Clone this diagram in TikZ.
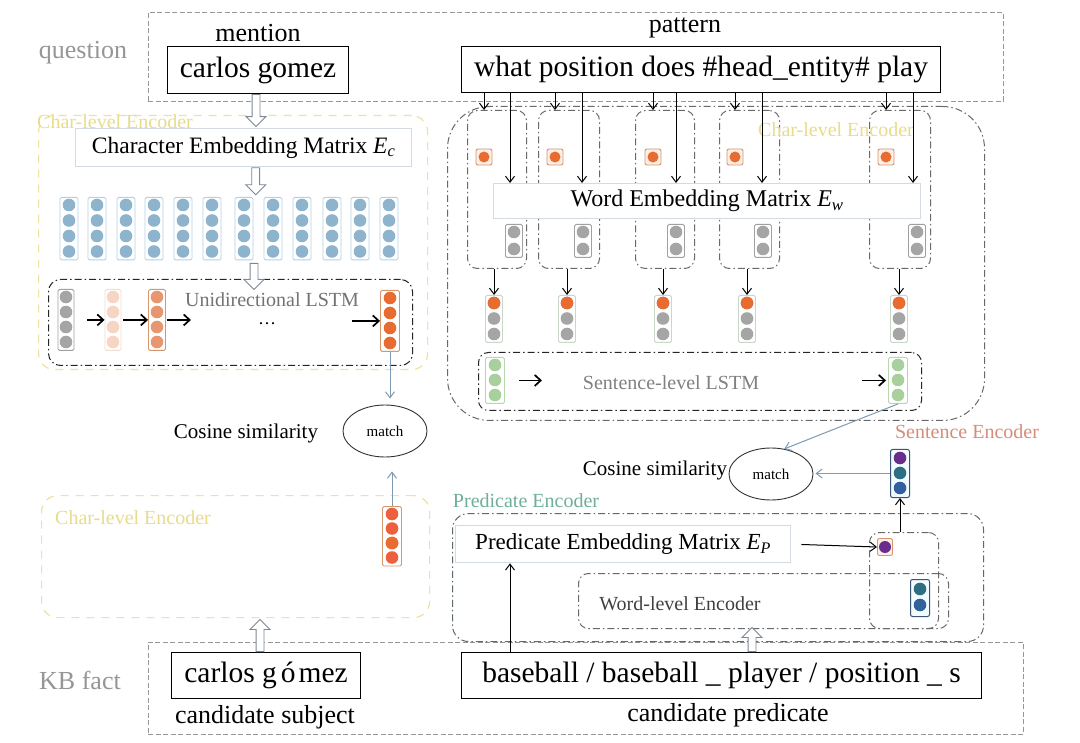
\documentclass[tikz,border=0pt]{standalone}
\usepackage{fontspec}
\setmainfont{Liberation Serif}
\usetikzlibrary{arrows.meta,shapes.arrows,shapes.geometric}
\definecolor{qgray}{RGB}{150,150,150}
\definecolor{ylw}{RGB}{238,226,160}
\definecolor{ylwtxt}{RGB}{232,220,140}
\definecolor{bluec}{RGB}{142,180,205}
\definecolor{blueb}{RGB}{180,208,228}
\definecolor{grayc}{RGB}{165,165,165}
\definecolor{grayb}{RGB}{160,160,160}
\definecolor{orc}{RGB}{232,108,48}
\definecolor{orb}{RGB}{215,150,110}
\definecolor{redor}{RGB}{236,96,62}
\definecolor{peach}{RGB}{246,214,194}
\definecolor{peachb}{RGB}{242,222,206}
\definecolor{lorc}{RGB}{232,150,112}
\definecolor{greenc}{RGB}{168,208,156}
\definecolor{greenb}{RGB}{185,215,175}
\definecolor{combb}{RGB}{200,215,200}
\definecolor{purp}{RGB}{105,45,140}
\definecolor{tealc}{RGB}{45,110,130}
\definecolor{bluedk}{RGB}{50,95,160}
\definecolor{vecb}{RGB}{60,85,115}
\definecolor{linkc}{RGB}{125,155,180}
\definecolor{embb}{RGB}{212,218,226}
\definecolor{sentc}{RGB}{215,140,120}
\definecolor{predc}{RGB}{110,175,155}
\definecolor{encg}{RGB}{105,105,105}
\definecolor{hollowc}{RGB}{125,135,150}

\newcommand\boxat[7]{\node[#6, minimum width={#4-#2}, minimum height={#5-#3}, inner sep=0pt, anchor=north west] (#1) at (#2,#3) {#7};}
\newcommand\cvec[8]{%
 \node[draw=#7, line width=0.9, rounded corners=1.5, minimum width=#8, minimum height={16+#5*(#4-1)}, inner sep=0pt, anchor=north] (#1) at (#2,#3) {};
 \foreach \k in {1,...,#4} {\fill[#6] (#2,{#3+8+#5*(\k-1)}) circle (6.3);}%
}

\begin{document}
\begin{tikzpicture}[x=1pt,y=-1pt,
  qbox/.style={draw=qgray, line width=0.9, dash pattern=on 5pt off 2.5pt},
  tbox/.style={draw=black, line width=1.1, fill=white, font=\fontsize{29.5}{32}\selectfont},
  ebox/.style={draw=embb, line width=1.3, fill=white},
  ydash/.style={draw=ylw, line width=1.2, dash pattern=on 8pt off 7pt, rounded corners=16},
  ddot/.style={line width=1, dash pattern=on 7pt off 3pt on 1.5pt off 3pt, rounded corners=#1},
  ddot/.default=10,
  arr/.style={-{Straight Barb[length=6pt,width=9pt]}, line width=1},
  larr/.style={-{Straight Barb[length=6pt,width=11pt]}, line width=1.7},
  link/.style={draw=linkc, line width=1, -{Straight Barb[length=6pt,width=9pt]}},
  hollow/.style={single arrow, draw=hollowc, fill=white, line width=0.9, inner sep=3.5pt,
     single arrow head extend=6pt, minimum height=#1},
  lab/.style={font=\fontsize{26}{28}\selectfont},
  mid/.style={font=\fontsize{21}{23}\selectfont},
  sml/.style={font=\fontsize{20}{22}\selectfont},
  osq/.style={draw=orb, line width=0.9, rounded corners=2, fill=peach!40, minimum width=16, minimum height=16, inner sep=0pt},
  matchE/.style={ellipse, draw=black!80, line width=0.9, minimum width=84, minimum height=52, inner sep=0pt, font=\fontsize{15}{17}\selectfont}
]
\useasboundingbox (0,0) rectangle (1080,743);
\fill[white] (0,0) rectangle (1080,743);

% ---------- containers ----------
\boxat{qbox}{148}{12}{1003}{101}{qbox}{}
\boxat{kbbox}{148}{642}{1023}{734}{qbox}{}
\boxat{ctop}{38}{115}{427}{369}{ydash}{}
\boxat{cbot}{41}{495}{429}{617}{ydash}{}
\boxat{ulstm}{48}{279}{412}{365}{ddot=12, draw=black!85}{}
\boxat{bigq}{447}{106}{984}{420}{ddot=42, draw=encg}{}
\boxat{col1}{467}{110}{526}{268}{ddot=10, draw=encg}{}
\boxat{col2}{538}{110}{599}{268}{ddot=10, draw=encg}{}
\boxat{col3}{635}{110}{694}{268}{ddot=10, draw=encg}{}
\boxat{col4}{719}{110}{779}{268}{ddot=10, draw=encg}{}
\boxat{col5}{869}{110}{930}{268}{ddot=10, draw=encg}{}
\boxat{slstm}{478}{352}{921}{410}{ddot=10, draw=black!85}{}
\boxat{penc}{452}{513}{983}{641}{ddot=16, draw=encg!90!teal}{}
\boxat{wenc}{578}{573}{948}{628}{ddot=10, draw=encg}{}
\boxat{sbox}{869}{532}{938}{628}{ddot=10, draw=encg}{}

% ---------- labels ----------
\node[lab, text=qgray] (lq) at (83,53) {question};
\node[lab, text=qgray] (lkb) at (80,680) {KB fact};
\node[lab] (lmen) at (258,33) {mention};
\node[lab] (lpat) at (685,28) {pattern};
\node[sml, text=ylwtxt] (lc1) at (115,122) {Char-level Encoder};
\node[sml, text=ylwtxt] (lc2) at (133,518) {Char-level Encoder};
\node[sml, text=ylwtxt] (lc3) at (836,130) {Char-level Encoder};
\node[sml, text=black!55] (lul) at (272,300) {Unidirectional LSTM};
\node[font=\fontsize{18}{20}\selectfont, inner sep=0pt, anchor=base] (ldots) at (267,325) {…};
\node[sml, text=black!50] (lsl) at (671,383) {Sentence-level LSTM};
\node[sml, text=sentc] (lse) at (967,432) {Sentence Encoder};
\node[sml, text=predc] (lpe) at (526,501) {Predicate Encoder};
\node[sml, text=black!75] (lwe) at (680,604) {Word-level Encoder};
\node[mid] (lcs1) at (246,433) {Cosine similarity};
\node[mid] (lcs2) at (655,470) {Cosine similarity};
\node[lab] (lcsub) at (265,717) {candidate subject};
\node[lab] (lcpred) at (728,715) {candidate predicate};

% ---------- text boxes ----------
\boxat{cg}{167}{46}{348}{93}{tbox}{carlos gomez}
\boxat{pat}{461}{46}{940}{92}{tbox}{what position does \#head\_entity\# play}
\boxat{cgs}{171}{652}{360}{698}{tbox}{carlos g\kern4pt ó\kern3pt mez}
\boxat{cp}{461}{652}{981}{698}{tbox}{baseball / baseball \_ player / position \_ s}
\boxat{cem}{75}{128}{411}{166}{ebox, font=\fontsize{23.5}{25}\selectfont}{Character Embedding Matrix \textit{E}\textsubscript{\textit{c}}}
\boxat{wem}{493}{183}{920}{218}{ebox, font=\fontsize{24}{26}\selectfont}{Word Embedding Matrix \textit{E}\textsubscript{\textit{w}}}
\boxat{pem}{455}{525}{790}{562}{ebox, font=\fontsize{23}{25}\selectfont}{Predicate Embedding Matrix \textit{E}\textsubscript{\textit{P}}}

% ---------- match ellipses ----------
\node[matchE] (mL) at (385,431) {match};
\node[matchE] (mR) at (771,474) {match};

% ---------- blue char vectors ----------
\foreach \xx [count=\i] in {69,97,126,154,183,212,244,273,302,332,360,389} {
  \cvec{bv\i}{\xx}{197}{4}{15.5}{bluec}{blueb}{18}
}

% ---------- unidirectional LSTM vectors ----------
\cvec{u1}{66}{289}{4}{15}{grayc}{grayb}{16}
\cvec{u2}{113}{289}{4}{15}{peach}{peachb}{16}
\cvec{u3}{157}{289}{4}{15}{lorc}{orb}{17}
\cvec{u4}{390}{290}{4}{15}{orc}{orb}{19}
\draw[larr] ([xshift=13pt]u1.east) -- (u2.west);
\draw[larr] ([xshift=2pt]u2.east) -- (u3.west);
\draw[larr] ([xshift=1pt]u3.east) -- ++(24,0);
\draw[larr] ([xshift=-28pt]u4.west) -- (u4.west);

% ---------- lower-left output vector ----------
\cvec{ov}{392}{506}{4}{14.5}{redor}{orb}{19}
\fill[orc] (392,543) circle (6.3);

% ---------- column contents ----------
\foreach \xo/\xg [count=\i] in {484/514,555/583,653/676,735/763,886/917} {
  \node[osq] (o\i) at (\xo,157) {};
  \fill[orc] (o\i.center) circle (5.5);
  \cvec{g\i}{\xg}{224}{2}{17}{grayc}{grayb}{17}
}
\foreach \xc [count=\i] in {494,567,663,747,899} {
  \cvec{cv\i}{\xc}{295}{3}{15.5}{grayc}{combb}{17}
  \fill[orc] (\xc,303) circle (6.3);
  \draw[arr] (col\i.south -| cv\i) -- (cv\i.north);
}
\foreach \i in {1,...,5} {
  \draw[arr] (pat.south -| o\i) -- (col\i.north -| o\i);
}
\foreach \xl [count=\i] in {510,582,676,762,913} {
  \coordinate (lx\i) at (\xl,0);
  \draw[arr] (pat.south -| lx\i) -- (wem.north -| lx\i);
}

% ---------- sentence LSTM ----------
\cvec{sg1}{495}{357}{3}{15}{greenc}{greenb}{19}
\cvec{sg2}{898}{357}{3}{15}{greenc}{greenb}{19}
\draw[larr] ([xshift=14pt]sg1.east) -- ++(23,0);
\draw[larr] ([xshift=-26pt]sg2.west) -- ([xshift=-2pt]sg2.west);

% ---------- sentence encoder output ----------
\node[draw=vecb, line width=1, rounded corners=2, minimum width=19, minimum height=48, inner sep=0pt, anchor=north, fill=cyan!5] (sv) at (900,449) {};
\fill[purp] (900,458) circle (6.3);
\fill[tealc] (900,473) circle (6.3);
\fill[bluedk] (900,488) circle (6.3);

% ---------- predicate encoder contents ----------
\node[draw=orb, line width=0.9, rounded corners=2, fill=peach!40, minimum width=15, minimum height=17, inner sep=0pt] (ps) at (885,547) {};
\fill[purp] (ps.center) circle (6);
\node[draw=vecb, line width=1, rounded corners=2, minimum width=19, minimum height=37, inner sep=0pt, anchor=north, fill=cyan!5] (bv2) at (920,579) {};
\fill[tealc] (920,589) circle (6.3);
\fill[bluedk!80!tealc] (920,605) circle (6.3);

% ---------- connectors ----------
\draw[link, shorten >=6pt] (u4.south) -- (u4.south |- mL.north);
\draw[link, shorten >=14pt] (ov.north) -- (ov.north |- mL.south);
\draw[link] (sg2.south) -- (mR.62);
\draw[link, shorten >=2pt] (sv.west) -- (sv.west -| mR.east);
\draw[arr, shorten <=10pt] (pem.east) -- (ps.west);
\draw[arr] (sbox.north -| sv) -- (sv.south);
\coordinate (pa) at (510,0);
\draw[arr] (cp.north -| pa) -- (pem.south -| pa);

% ---------- hollow arrows ----------
\node[hollow=32, shape border rotate=270, anchor=tail] (h1) at ([xshift=-2pt]cg.south) {};
\node[hollow=27, shape border rotate=270, anchor=tail] (h2) at ([xshift=12pt]cem.south) {};
\node[hollow=26, shape border rotate=270, anchor=tail] (h3) at (254,263) {};
\node[hollow=32, shape border rotate=90, anchor=tail] (h4) at ([xshift=-6pt]cgs.north) {};
\node[hollow=24, shape border rotate=90, anchor=tail] (h5) at (cp.north -| 752,0) {};
\end{tikzpicture}
\end{document}
